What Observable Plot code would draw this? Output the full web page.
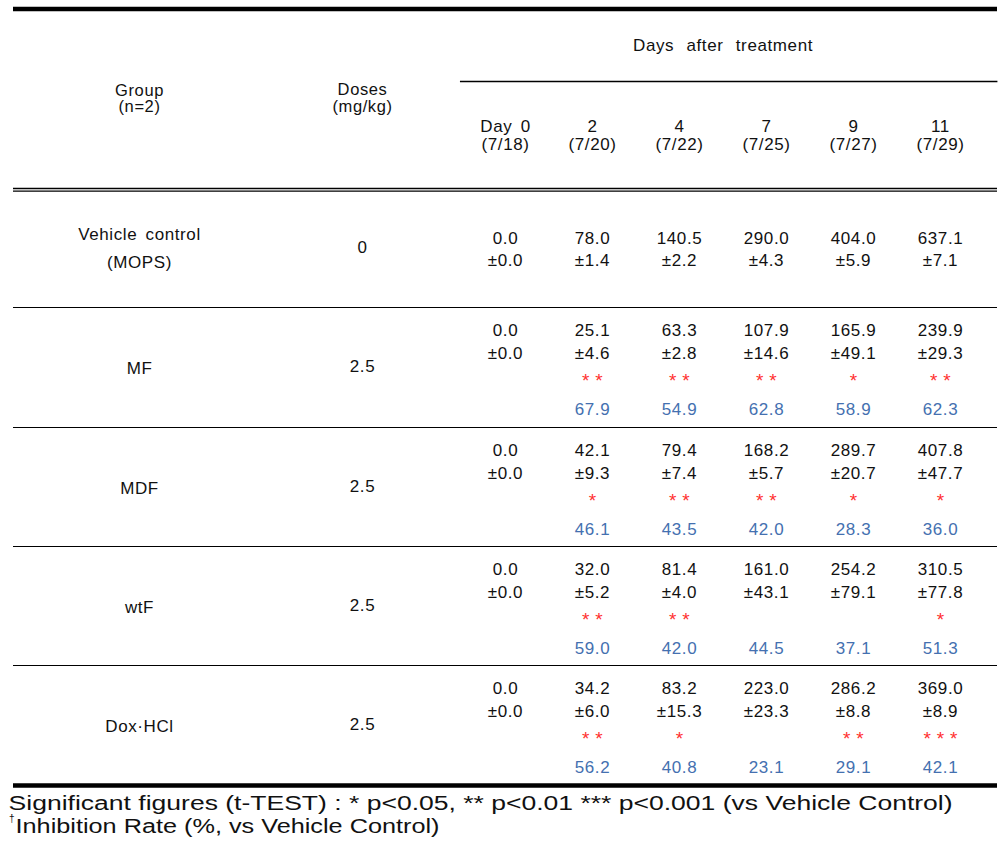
<!DOCTYPE html>
<html>
<head>
<meta charset="utf-8">
<script src="https://cdn.jsdelivr.net/npm/d3@7"></script>
<script src="https://cdn.jsdelivr.net/npm/@observablehq/plot@0.6"></script>
<style>
  html, body { margin: 0; padding: 0; background: #fff; }
  #chart svg { display: block; }
  #chart g.body text { letter-spacing: 0.6px; word-spacing: 3px; }
  #chart g.days text { letter-spacing: 0.6px; word-spacing: 7px; }
  #chart g.stars text { letter-spacing: 0.3px; }
</style>
</head>
<body>
<div id="chart"></div>
<script>
// ---------- data ----------
const groups = ["Vehicle control\n(MOPS)", "MF", "MDF", "wtF", "Dox·HCl"];
const doses = ["0", "2.5", "2.5", "2.5", "2.5"];
const dayLabels = ["Day 0", "2", "4", "7", "9", "11"];
const dateLabels = ["(7/18)", "(7/20)", "(7/22)", "(7/25)", "(7/27)", "(7/29)"];
const means = [
  [0.0, 78.0, 140.5, 290.0, 404.0, 637.1],
  [0.0, 25.1, 63.3, 107.9, 165.9, 239.9],
  [0.0, 42.1, 79.4, 168.2, 289.7, 407.8],
  [0.0, 32.0, 81.4, 161.0, 254.2, 310.5],
  [0.0, 34.2, 83.2, 223.0, 286.2, 369.0]
];
const sds = [
  [0.0, 1.4, 2.2, 4.3, 5.9, 7.1],
  [0.0, 4.6, 2.8, 14.6, 49.1, 29.3],
  [0.0, 9.3, 7.4, 5.7, 20.7, 47.7],
  [0.0, 5.2, 4.0, 43.1, 79.1, 77.8],
  [0.0, 6.0, 15.3, 23.3, 8.8, 8.9]
];
const stars = [
  ["", "", "", "", "", ""],
  ["", "**", "**", "**", "*", "**"],
  ["", "*", "**", "**", "*", "*"],
  ["", "**", "**", "", "", "*"],
  ["", "**", "*", "", "**", "***"]
];
const inhibition = [
  [null, null, null, null, null, null],
  [null, 67.9, 54.9, 62.8, 58.9, 62.3],
  [null, 46.1, 43.5, 42.0, 28.3, 36.0],
  [null, 59.0, 42.0, 44.5, 37.1, 51.3],
  [null, 56.2, 40.8, 23.1, 29.1, 42.1]
];
const headerGroup = "Group\n(n=2)";
const headerDose = "Doses\n(mg/kg)";
const headerDays = "Days after treatment";
const footnote1 = "Significant figures (t-TEST) : * p<0.05, ** p<0.01 *** p<0.001 (vs Vehicle Control)";
const footnote2 = "Inhibition Rate (%, vs Vehicle Control)";

// ---------- layout (column index / row offsets) ----------
const rowTops = [191, 307, 427, 546, 665];
const tableBottom = 785;
const dayCol = i => 2 + i;

const font = "'Liberation Sans', Arial, sans-serif";
const black = "#111";
const red = "#ff3030";
const blue = "#4470b0";

// build cell tables
const cells = [];
means.forEach((row, r) => {
  row.forEach((m, c) => {
    const top = rowTops[r];
    const first = r === 0;
    cells.push({kind: "mean", col: dayCol(c), y: first ? 238 : top + 23, text: m.toFixed(1)});
    cells.push({kind: "sd", col: dayCol(c), y: first ? 260 : top + 46, text: "±" + sds[r][c].toFixed(1)});
    if (stars[r][c]) cells.push({kind: "star", col: dayCol(c), y: top + 73, text: stars[r][c].split("").join(" ")});
    if (inhibition[r][c] != null) cells.push({kind: "inh", col: dayCol(c), y: top + 102, text: inhibition[r][c].toFixed(1)});
  });
});
const labels = groups.map((g, r) => ({col: 0, y: r === 0 ? 244.5 : rowTops[r] + 58, text: g}));
const doseCells = doses.map((d, r) => ({col: 1, y: r === 0 ? 247 : rowTops[r] + 59, text: d}));
const dayHeads = dayLabels.map((d, i) => ({col: dayCol(i), y: 135, text: d + "\n" + dateLabels[i]}));
const separators = rowTops.slice(1);

const chart = Plot.plot({
  width: 1003,
  height: 855,
  marginLeft: 13,
  marginRight: 6,
  marginTop: 0,
  marginBottom: 0,
  style: {fontFamily: font, background: "#fff"},
  x: {type: "linear", domain: [0, 1, 2, 7], range: [139, 362, 505, 940], axis: null},
  y: {type: "linear", domain: [0, 855], range: [0, 855], axis: null},
  marks: [
    // rules
    Plot.ruleY([8.5], {stroke: "#000", strokeWidth: 4.5}),
    Plot.ruleY([81], {x1: 1.685, x2: 7.66, stroke: "#000", strokeWidth: 1.3}),
    Plot.ruleY([188, 190.7], {stroke: "#000", strokeWidth: 1.3}),
    Plot.ruleY(separators, {stroke: "#000", strokeWidth: 1.1}),
    Plot.ruleY([tableBottom], {stroke: "#000", strokeWidth: 4.5}),
    // header
    Plot.text([headerDays], {x: 4.5, y: 45, text: d => d, fontSize: 17, fill: black, className: "days"}),
    Plot.text([headerGroup], {x: 0, y: 98, text: d => d, fontSize: 16.5, lineHeight: 1.0, fill: black, className: "body"}),
    Plot.text([headerDose], {x: 1, y: 98, text: d => d, fontSize: 16.5, lineHeight: 1.02, fill: black, className: "body"}),
    Plot.text(dayHeads, {x: "col", y: "y", text: "text", fontSize: 17, lineHeight: 1.06, fill: black, className: "body"}),
    // row labels
    Plot.text(labels, {x: "col", y: "y", text: "text", fontSize: 17, lineHeight: 1.65, fill: black, className: "body"}),
    Plot.text(doseCells, {x: "col", y: "y", text: "text", fontSize: 17, fill: black, className: "body"}),
    // values
    Plot.text(cells.filter(d => d.kind === "mean" || d.kind === "sd"), {x: "col", y: "y", text: "text", fontSize: 17, fill: black, className: "body"}),
    Plot.text(cells.filter(d => d.kind === "star"), {x: "col", y: "y", text: "text", fontSize: 19, fill: red, className: "stars"}),
    Plot.text(cells.filter(d => d.kind === "inh"), {x: "col", y: "y", text: "text", fontSize: 17, fill: blue, className: "body"}),
    // footnotes
    Plot.text([footnote1], {x: -0.587, y: 803, text: d => d, textAnchor: "start", fontSize: 20, fill: black, className: "fn1"}),
    Plot.text(["†"], {x: -0.585, y: 818, text: d => d, textAnchor: "start", fontSize: 10, fill: black}),
    Plot.text([footnote2], {x: -0.556, y: 826, text: d => d, textAnchor: "start", fontSize: 20, fill: black, className: "fn2"})
  ]
});
document.getElementById("chart").append(chart);
// condense footnote text to match the reference width
const fitWidth = (cls, w) => {
  chart.querySelectorAll("g." + cls + " text").forEach(t => {
    t.setAttribute("textLength", w);
    t.setAttribute("lengthAdjust", "spacingAndGlyphs");
  });
};
fitWidth("fn1", 944);
fitWidth("fn2", 424);
</script>
</body>
</html>
